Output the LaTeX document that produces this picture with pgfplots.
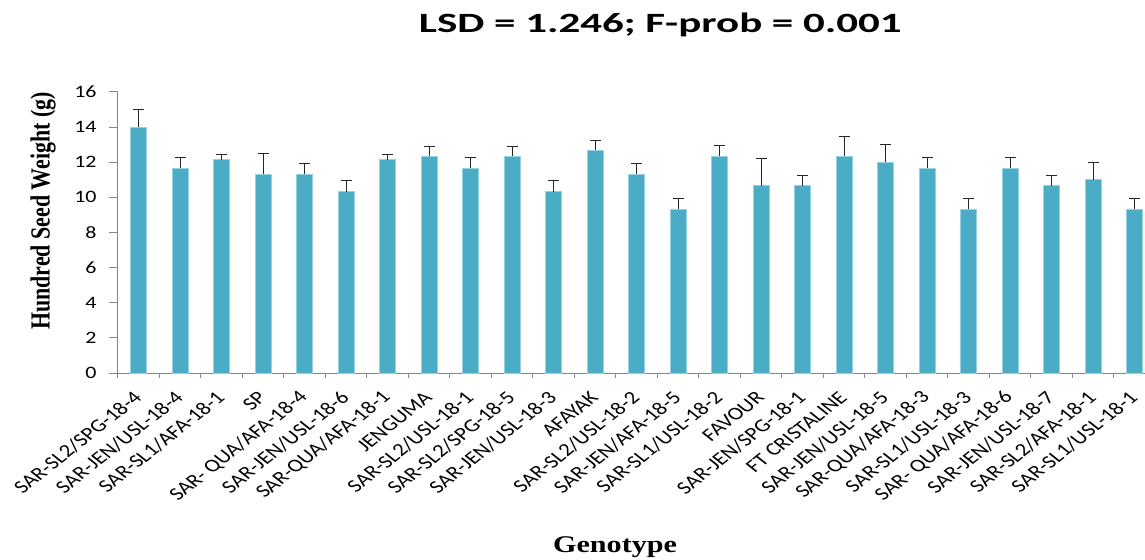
\documentclass[border=0pt]{standalone}
\usepackage{pgfplots}
\pgfplotsset{compat=1.18}
\usepackage{pgfplotstable}
\usepackage{fontspec}
\setmainfont{Carlito}
\newfontfamily\timesfont{Liberation Serif}
\definecolor{barblue}{HTML}{4BACC6}
\definecolor{baredge}{RGB}{150,210,228}
\definecolor{axisgray}{HTML}{868686}

\pgfplotstableread{
x y e
0 14.00 1.00
1 11.67 0.58
2 12.14 0.30
3 11.33 1.17
4 11.33 0.62
5 10.33 0.61
6 12.14 0.30
7 12.33 0.59
8 11.67 0.58
9 12.33 0.59
10 10.33 0.61
11 12.67 0.59
12 11.33 0.62
13 9.33 0.60
14 12.33 0.61
15 10.67 1.54
16 10.67 0.59
17 12.33 1.14
18 12.00 0.99
19 11.67 0.58
20 9.33 0.60
21 11.67 0.58
22 10.67 0.59
23 11.00 0.99
24 9.33 0.60
}\datatable

\begin{document}
\begin{tikzpicture}
\path[use as bounding box] (-118bp,-187bp) rectangle (1027bp,373bp);
\begin{axis}[
  at={(0,0)}, anchor=south west,
  scale only axis, width=1027bp, height=281bp,
  xmin=-0.5, xmax=24.25, ymin=0, ymax=16,
  axis x line*=bottom, axis y line*=left,
  axis line style={axisgray, line width=1bp},
  ybar, bar width=16bp,
  ytick={0,2,...,16},
  xtick={0,...,24},
  minor xtick={-0.5,0.5,...,24.5},
  xticklabels={{SAR-SL2/SPG-18-4},{SAR-JEN/USL-18-4},{SAR-SL1/AFA-18-1},{SP},{SAR- QUA/AFA-18-4},{SAR-JEN/USL-18-6},{SAR-QUA/AFA-18-1},{JENGUMA},{SAR-SL2/USL-18-1},{SAR-SL2/SPG-18-5},{SAR-JEN/USL-18-3},{AFAYAK},{SAR-SL2/USL-18-2},{SAR-JEN/AFA-18-5},{SAR-SL1/USL-18-2},{FAVOUR},{SAR-JEN/SPG-18-1},{FT CRISTALINE},{SAR-JEN/USL-18-5},{SAR-QUA/AFA-18-3},{SAR-SL1/USL-18-3},{SAR- QUA/AFA-18-6},{SAR-JEN/USL-18-7},{SAR-SL2/AFA-18-1},{SAR-SL1/USL-18-1}},
  tick align=outside,
  major tick length=9bp, minor tick length=5bp,
  tick style={axisgray, line width=1bp},
  major x tick style={draw=none},
  /pgf/number format/assume math mode=true,
  yticklabel style={font=\fontsize{17.5}{20}\selectfont, xshift=-8bp, xscale=1.26, text=black},
  xticklabel style={font=\fontsize{18.3}{21}\selectfont, xshift=0bp, yshift=-12bp, xscale=1.26, rotate=45, anchor=east, text=black, inner sep=1bp},
  title={LSD = 1.246; F-prob = 0.001},
  title style={font=\fontsize{28}{32}\selectfont\bfseries, xscale=1.54, at={(axis description cs:0.528,1.218)}, anchor=center},
  xlabel={Genotype},
  xlabel style={font=\timesfont\bfseries\fontsize{24}{28}\selectfont, xscale=1.26, at={(axis description cs:0.484,-0.619)}, anchor=center},
  ylabel={Hundred Seed Weight (g)},
  ylabel style={font=\timesfont\bfseries\fontsize{22}{26}\selectfont, yscale=1.26, at={(axis description cs:-0.073,0.577)}, anchor=center},
]
\addplot[fill=barblue, draw=baredge, line width=0.8bp,
  error bars/.cd, y dir=plus, y explicit,
  error bar style={black!85, line width=1bp},
  error mark options={black!85, line width=1bp, mark size=5.5bp, rotate=90}]
  table[x=x, y=y, y error=e] {\datatable};
\end{axis}
\end{tikzpicture}
\end{document}
